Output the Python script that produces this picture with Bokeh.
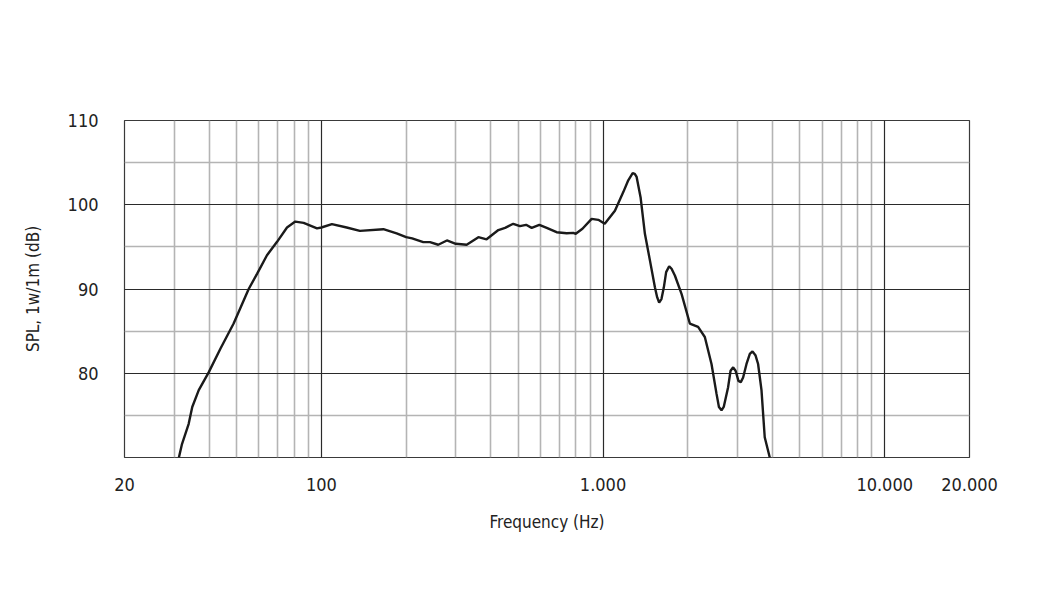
from bokeh.plotting import figure
from bokeh.models import FixedTicker, Grid, ColumnDataSource
from bokeh.embed import file_html
from bokeh.resources import INLINE

# Frequency response data (Hz, dB SPL 1w/1m)
freq = [31.2, 32.0, 33.8, 34.8, 36.7, 39.8, 43.8, 48.8, 55.2, 59.1, 64.1, 69.6,
        75.5, 80.8, 86.5, 96.5, 100, 109, 123, 137, 166, 185, 200, 210, 230, 243,
        260, 279, 300, 328, 361, 386, 425, 449, 480, 507, 533, 558, 594, 631, 684,
        743, 784, 800, 845, 911, 962, 1014, 1102, 1180, 1229, 1274, 1296, 1316,
        1359, 1408, 1467, 1528, 1557, 1582, 1612, 1644, 1675, 1717, 1751, 1799,
        1901, 2033, 2175, 2298, 2427, 2529, 2579, 2634, 2682, 2780, 2836, 2897,
        2955, 3025, 3084, 3143, 3231, 3320, 3393, 3480, 3552, 3652, 3750, 3908]
spl = [70.0, 71.6, 74.0, 76.0, 78.0, 80.1, 82.9, 85.9, 90.0, 91.8, 94.0, 95.6,
       97.3, 98.0, 97.85, 97.2, 97.3, 97.7, 97.3, 96.9, 97.1, 96.6, 96.15, 96.0,
       95.56, 95.56, 95.25, 95.76, 95.37, 95.25, 96.15, 95.9, 97.0, 97.26, 97.74,
       97.46, 97.62, 97.26, 97.62, 97.26, 96.74, 96.62, 96.66, 96.55, 97.15, 98.33,
       98.21, 97.74, 99.3, 101.5, 102.9, 103.75, 103.67, 103.3, 100.9, 96.55, 93.4,
       90.2, 89.0, 88.4, 88.8, 90.2, 92.0, 92.7, 92.4, 91.6, 89.4, 85.9, 85.5, 84.3,
       81.1, 77.55, 76.0, 75.6, 76.0, 78.35, 80.3, 80.7, 80.3, 79.1, 78.95, 79.5,
       81.1, 82.3, 82.6, 82.1, 81.1, 78.0, 72.4, 70.0]

x_tick_values = [20, 100, 1000, 10000, 20000]
x_tick_labels = ["20", "100", "1.000", "10.000", "20.000"]
y_tick_values = [80, 90, 100, 110]

x_minor_grid = [30, 40, 50, 60, 70, 80, 90,
                200, 300, 400, 500, 600, 700, 800, 900,
                2000, 3000, 4000, 5000, 6000, 7000, 8000, 9000]
x_major_grid = [100, 1000, 10000]
y_minor_grid = [75, 85, 95, 105]
y_major_grid = [80, 90, 100]

FONT = "'DejaVu Sans Condensed', 'Roboto Condensed', 'Liberation Sans Narrow', Roboto, sans-serif"

p = figure(width=1040, height=590, x_axis_type="log",
           x_range=(20, 20000), y_range=(70, 110),
           output_backend="svg", toolbar_location=None,
           min_border_left=124, min_border_right=71,
           min_border_top=120, min_border_bottom=133,
           background_fill_color="white", border_fill_color="white")

p.xgrid.visible = False
p.ygrid.visible = False

for ticks, dim, color, w in [
    (x_minor_grid, 0, "#b4b4b4", 1.6),
    (y_minor_grid, 1, "#b4b4b4", 1.6),
    (x_major_grid, 0, "#2a2a2a", 1.2),
    (y_major_grid, 1, "#2a2a2a", 1.2),
]:
    g = Grid(dimension=dim, ticker=FixedTicker(ticks=ticks),
             grid_line_color=color, grid_line_width=w)
    p.add_layout(g)

p.outline_line_color = "#3a3a3a"
p.outline_line_width = 1.2

src = ColumnDataSource(dict(freq=freq, spl=spl))
p.line("freq", "spl", source=src, line_color="#1a1a1a", line_width=2.4)

xa = p.xaxis[0]
xa.ticker = FixedTicker(ticks=x_tick_values)
xa.major_label_overrides = {v: l for v, l in zip(x_tick_values, x_tick_labels)}
xa.axis_label = "Frequency (Hz)"
ya = p.yaxis[0]
ya.ticker = FixedTicker(ticks=y_tick_values)
ya.axis_label = "SPL, 1w/1m (dB)"

for ax in (xa, ya):
    ax.axis_line_color = None
    ax.major_tick_line_color = None
    ax.minor_tick_line_color = None
    ax.major_label_text_font = FONT
    ax.major_label_text_font_size = "18px"
    ax.major_label_text_color = "#222222"
    ax.axis_label_text_font = FONT
    ax.axis_label_text_font_size = "17px"
    ax.axis_label_text_font_style = "normal"
    ax.axis_label_text_color = "#222222"

xa.major_label_standoff = 14
xa.axis_label_standoff = 18
ya.major_label_standoff = 20
ya.axis_label_standoff = 22

open("out.html", "w").write(file_html(p, INLINE))
